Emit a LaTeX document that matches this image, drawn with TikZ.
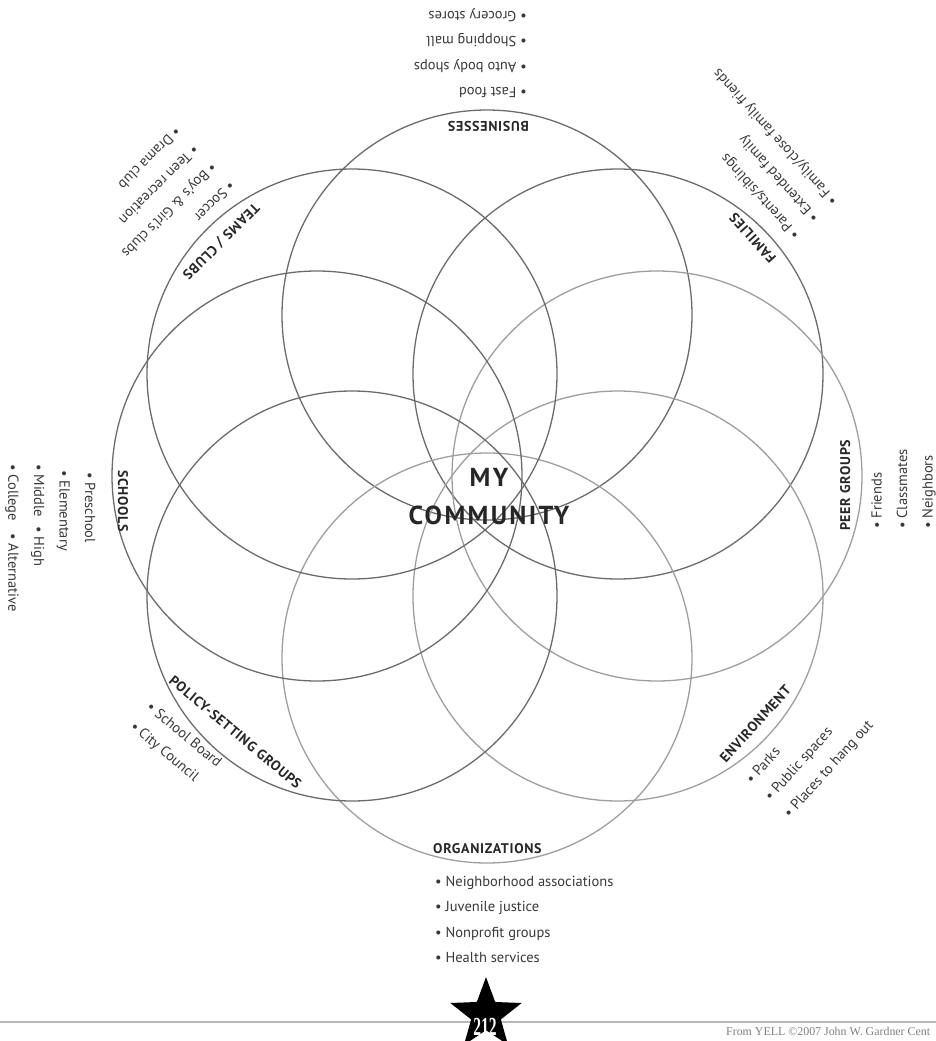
\documentclass[tikz,border=0pt]{standalone}
\usepackage{fontspec}
\setmainfont{PT Sans}
\newfontfamily\footfont{Liberation Serif}
\usepackage{tikz}
\usetikzlibrary{shapes.geometric}

\definecolor{ringdark}{gray}{0.42}
\definecolor{ringpale}{gray}{0.62}
\definecolor{entrygray}{gray}{0.22}

\begin{document}
\begin{tikzpicture}[
    x=1pt, y=1pt,
    ring/.style={circle, draw=ringdark, line width=1.3pt, minimum size=410pt, inner sep=0pt},
    palering/.style={ring, draw=ringpale},
    tag/.style={font=\fontsize{14}{16}\selectfont\bfseries\addfontfeatures{LetterSpace=5}, text=black!85, inner sep=0pt, anchor=base west},
    entry/.style={font=\fontsize{14.5}{17}\selectfont, text=entrygray, inner sep=0pt, anchor=base west},
    hub/.style={font=\fontsize{26}{38}\selectfont\bfseries\addfontfeatures{LetterSpace=9}, text=black!85, align=center, inner sep=0pt}
]
\useasboundingbox (0,-1041) rectangle (936,0);

% Circles
\node[ring] (busRing) at (487,-315) {};
\node[ring] (famRing) at (618,-374) {};
\node[palering] (peerRing) at (657,-476) {};
\node[palering] (envRing) at (618,-596) {};
\node[palering] (orgRing) at (487,-658) {};
\node[ring] (polRing) at (352,-596) {};
\node[ring] (schRing) at (317,-476) {};
\node[ring] (teamRing) at (352,-374) {};

% Centre
\node[hub] (hub) at (489,-497) {MY\\COMMUNITY};

% Businesses
\begin{scope}[shift={(529,-121)}, rotate=180, transform shape]
  \node[tag] (busTag) at (0,0) {BUSINESSES};
  \foreach \txt [count=\i] in {Fast food, Auto body shops, Shopping mall, Grocery stores}
    \node[entry] (bus\i) at (2,{-7.5-25.5*\i}) {• \txt};
\end{scope}

% Families
\begin{scope}[shift={(777,-258)}, rotate=132, transform shape]
  \node[tag] (famTag) at (0,0) {FAMILIES};
  \foreach \txt [count=\i] in {Parents/siblings, Extended family, Family/close family friends}
    \node[entry] (fam\i) at (2,{-7.5-25.5*\i}) {• \txt};
\end{scope}

% Peer groups
\begin{scope}[shift={(850,-531)}, rotate=90, transform shape]
  \node[tag] (peerTag) at (0,0) {PEER GROUPS};
  \foreach \txt [count=\i] in {Friends, Classmates, Neighbors}
    \node[entry] (peer\i) at (2,{-6-25.5*\i}) {• \txt};
\end{scope}

% Environment
\begin{scope}[shift={(726,-764)}, rotate=48, transform shape]
  \node[tag] (envTag) at (0,0) {ENVIRONMENT};
  \foreach \txt [count=\i] in {Parks, Public spaces, Places to hang out}
    \node[entry] (env\i) at (2,{-7.5-25.5*\i}) {• \txt};
\end{scope}

% Organizations
\begin{scope}[shift={(433,-853)}]
  \node[tag] (orgTag) at (0,0) {ORGANIZATIONS};
  \foreach \txt [count=\i] in {Neighborhood associations, Juvenile justice, Nonprofit groups, Health services}
    \node[entry] (org\i) at (2,{-7.5-25.5*\i}) {• \txt};
\end{scope}

% Policy-setting groups
\begin{scope}[shift={(168,-682)}, rotate=-40, transform shape]
  \node[tag] (polTag) at (0,0) {POLICY-SETTING GROUPS};
  \foreach \txt [count=\i] in {School Board, City Council}
    \node[entry] (pol\i) at (0,{-9-25.5*\i}) {• \txt};
\end{scope}

% Schools
\begin{scope}[shift={(118,-470)}, rotate=-90, transform shape]
  \node[tag] (schTag) at (0,0) {SCHOOLS};
  \node[entry] (sch1) at (2,-33) {• Preschool};
  \node[entry] (sch2) at (0,-58.5) {• Elementary};
  \node[entry] (sch3) at (-6,-84) {• Middle};
  \node[entry] (sch4) at (-6,-109.5) {• College};
  \node[entry] (sch5) at (56,-84) {• High};
  \node[entry] (sch6) at (63,-109.5) {• Alternative};
\end{scope}

% Teams / clubs
\begin{scope}[shift={(254,-202)}, rotate=-135, transform shape]
  \node[tag] (teamTag) at (0,0) {TEAMS / CLUBS};
  \foreach \txt [count=\i] in {Soccer, Boy’s \& Girl’s clubs, Teen recreation, Drama club}
    \node[entry] (team\i) at (2,{-7.5-25.5*\i}) {• \txt};
\end{scope}

% Footer
\coordinate (ruleL) at (0,-1022);
\coordinate (ruleR) at (936,-1022);
\draw[gray!55, line width=1.2pt] (ruleL) -- (ruleR);
\node[star, star points=5, star point ratio=2.4, minimum size=75pt, inner sep=0pt, fill=black] (pageStar) at (486,-1014.6) {};
\node[font=\footfont\bfseries\fontsize{26}{28}\selectfont, text=white, inner sep=0pt, anchor=base] (pageNo) at (485,-1035) {\scalebox{0.6}[1]{212}};
\node[font=\footfont\fontsize{11.9}{14}\selectfont, text=gray, inner sep=0pt, anchor=base west] (credit) at (726,-1035) {From YELL ©2007 John W. Gardner Cent};

\end{tikzpicture}
\end{document}
